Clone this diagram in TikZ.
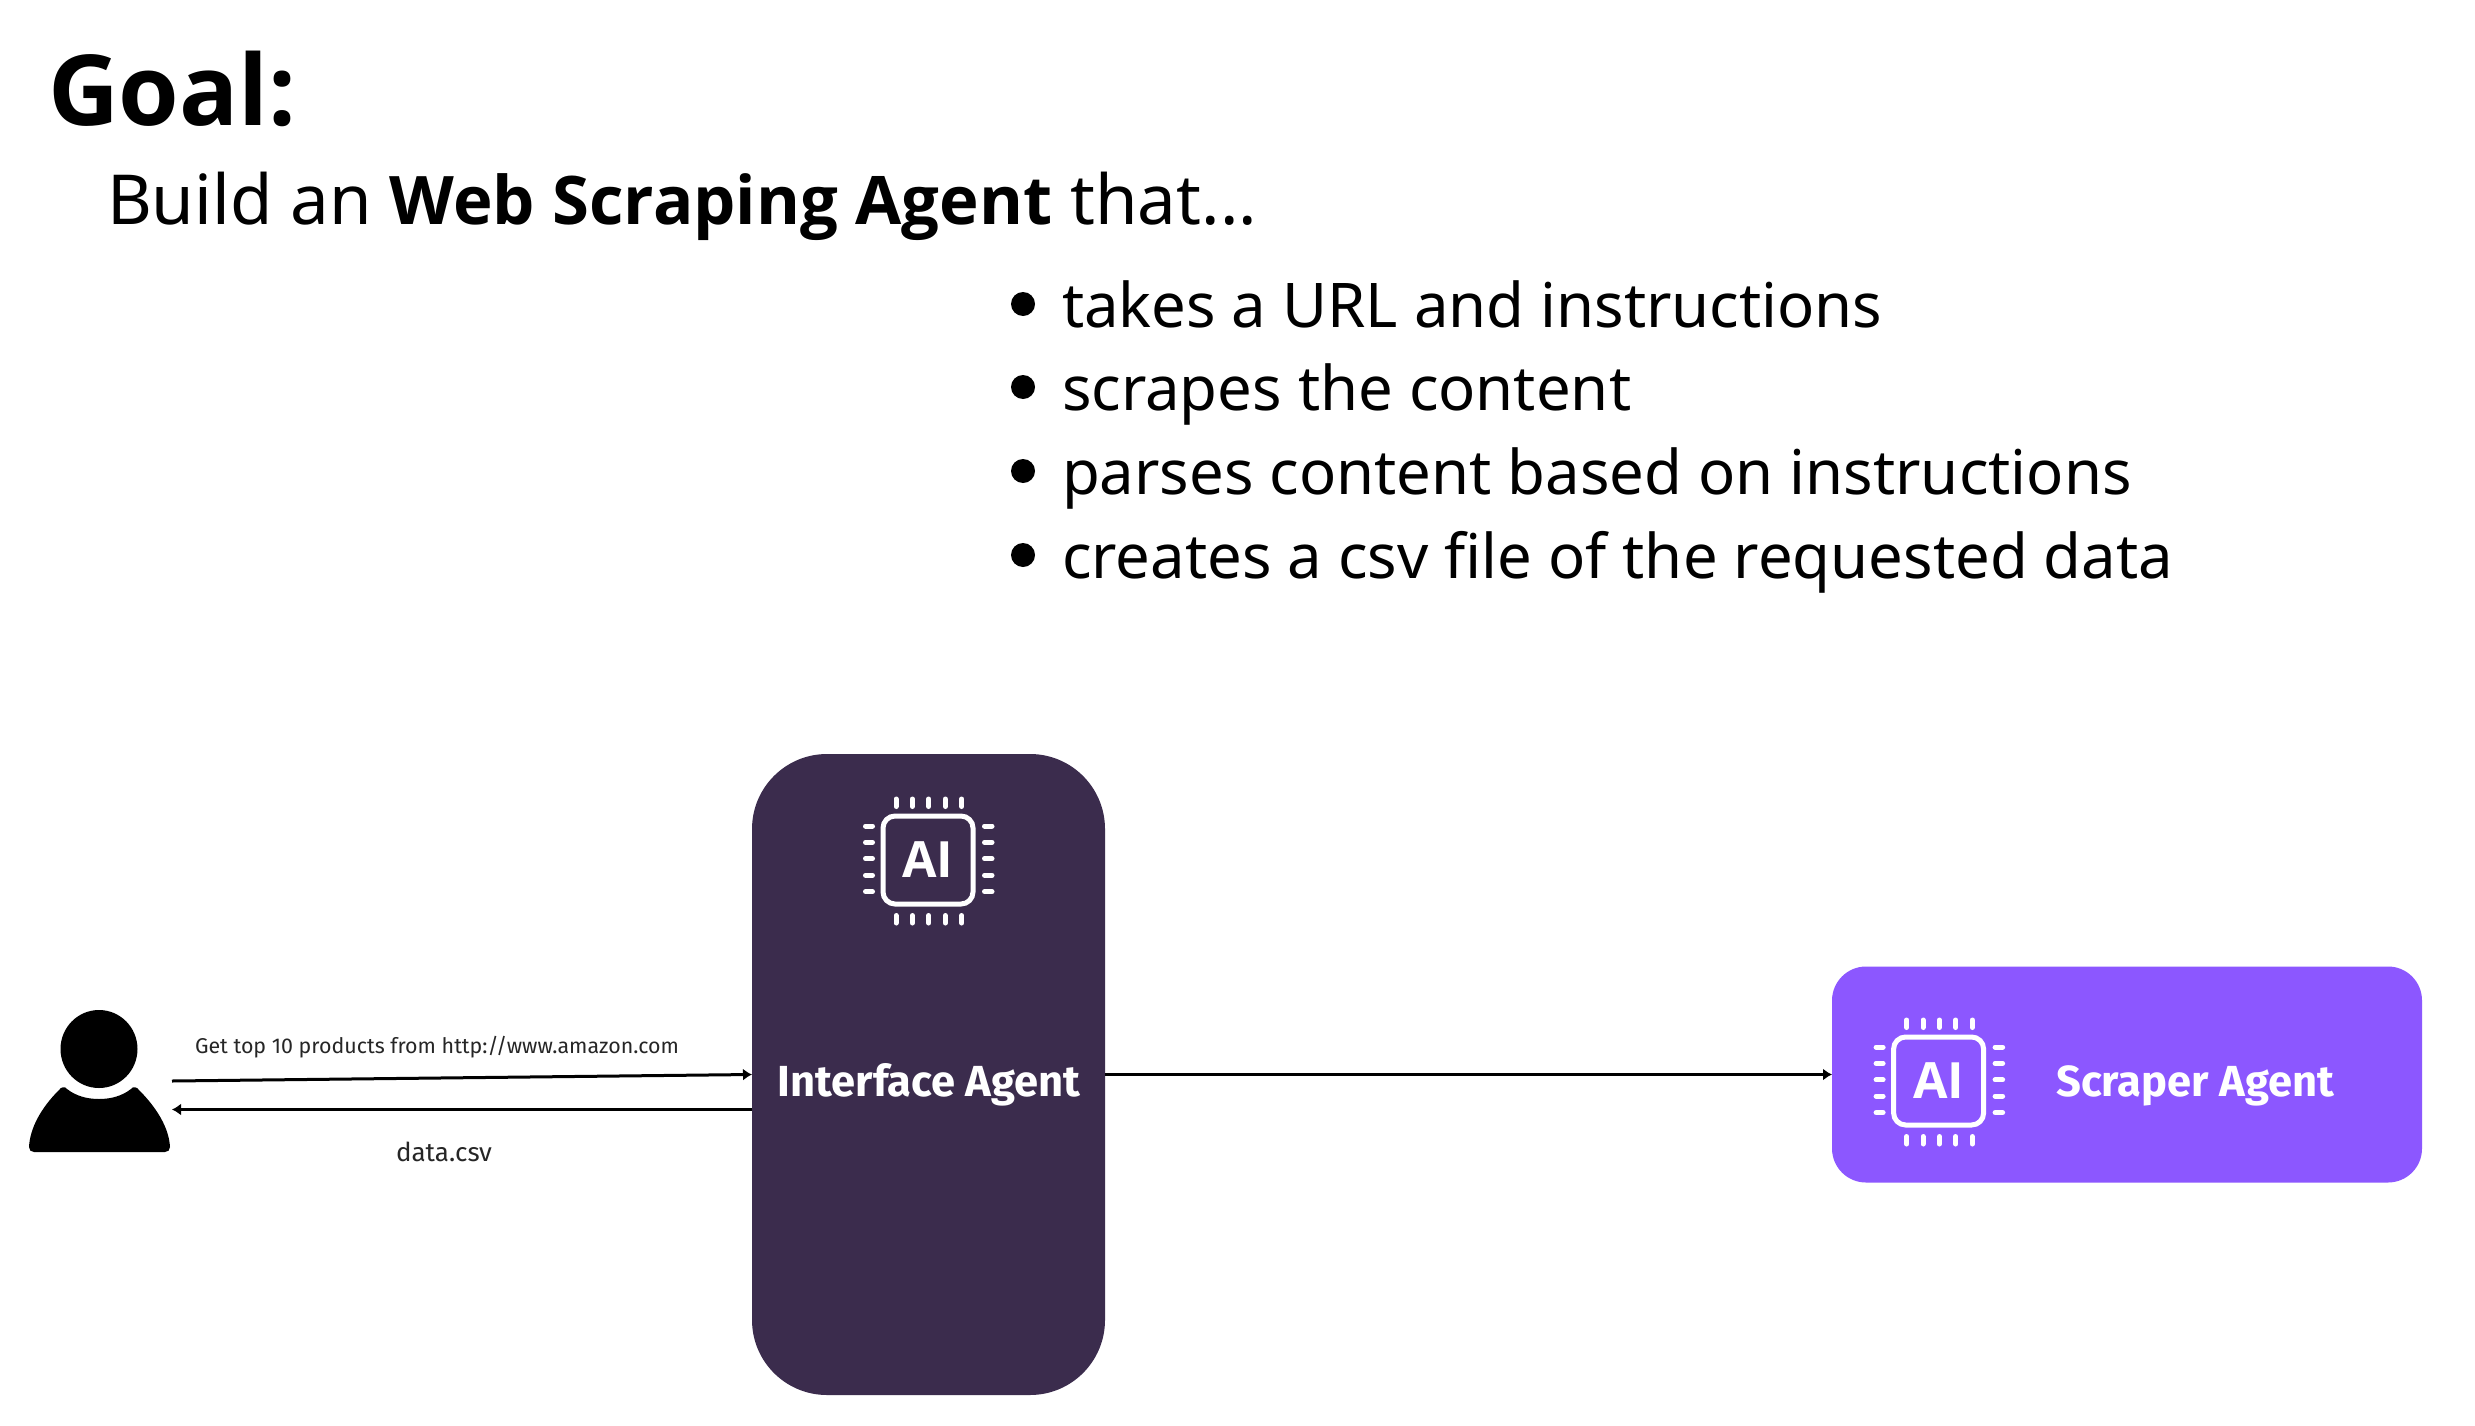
\documentclass[tikz,border=0pt]{standalone}
\usepackage{fontspec}
\setmainfont{Noto Sans}
\newfontfamily\boldf{Open Sans}
\newfontfamily\labelfont{Fira Sans}
\usetikzlibrary{arrows.meta}
\definecolor{ifacecol}{HTML}{3B2C4D}
\definecolor{scrapecol}{HTML}{8C57FF}
\newcommand{\fs}[1]{\fontsize{#1}{#1}\selectfont}
\tikzset{
  x=1pt,y=-1pt,
  txt/.style={anchor=base west,inner sep=0pt,outer sep=0pt,text=black},
  agentbox/.style={draw=none,inner sep=0pt,outer sep=0pt},
  agentname/.style={anchor=base,inner sep=0pt,text=white,font=\labelfont\bfseries\fs{43.5}},
  small/.style={anchor=base,inner sep=0pt,text=black!85,font=\labelfont},
  link/.style={line width=3pt,draw=black,-{Latex[length=9pt,width=12pt]}},
  pin/.style={line width=5pt,white,line cap=round},
  pics/chip/.style={code={
    \draw[white,line width=5pt,rounded corners=12pt] (2,2) rectangle (92,90);
    \foreach \k in {0,...,4}{
      \draw[pin] (15+16.4*\k,-15) -- (15+16.4*\k,-7.5);
      \draw[pin] (15+16.4*\k,101.5) -- (15+16.4*\k,109);
      \draw[pin] (-15.5,12+16.4*\k) -- (-8.5,12+16.4*\k);
      \draw[pin] (103.5,12+16.4*\k) -- (111,12+16.4*\k);
    }
    \node[inner sep=0pt,text=white,font=\boldf\bfseries\fs{50}] at (47,46) {AI};
  }}
}
\begin{document}
\begin{tikzpicture}
\useasboundingbox[fill=white] (0,0) rectangle (2475,1426);
\node[txt,font=\boldf\bfseries\fs{98}] (goal) at (48,126) {Goal:};
\node[txt,font=\fs{69}] (build) at (107,224) {Build an {\boldf\bfseries\fs{67}Web Scraping Agent} that...};
\foreach \yy/\tt in {327/takes a URL and instructions,410/scrapes the content,494/parses content based on instructions,578/creates a csv file of the requested data}{
  \fill (1023,\yy-23) circle (12);
  \node[txt,font=\fs{61.6}] at (1062,\yy) {\tt};
}
% person
\node[agentbox,minimum width=141pt,minimum height=142pt] (person) at (99.5,1081) {};
\fill (99,1049) ellipse [x radius=38.5,y radius=39];
\fill (59,1090) .. controls (61,1087) and (65,1086) .. (67,1089)
  .. controls (76,1096) and (87,1099) .. (99,1099)
  .. controls (111,1099) and (122,1096) .. (131,1089)
  .. controls (133,1086) and (137,1087) .. (139,1090)
  .. controls (157,1108) and (169,1128) .. (170,1147)
  .. controls (170,1150) and (168,1152) .. (165,1152)
  -- (34,1152)
  .. controls (31,1152) and (29,1150) .. (29,1147)
  .. controls (30,1128) and (41,1108) .. (59,1090) -- cycle;
% boxes
\node[agentbox,fill=ifacecol,rounded corners=75pt,minimum width=353pt,minimum height=641pt] (iface) at (928.5,1074.5) {};
\node[agentbox,fill=scrapecol,rounded corners=34pt,minimum width=590pt,minimum height=216pt] (scrape) at (2127,1074.5) {};
\pic at (881,814) {chip};
\pic at (1891.6,1035) {chip};
\node[agentname] (ifacelabel) at (929,1096) {Interface Agent};
\node[agentname] (scrapelabel) at (2195,1096) {Scraper Agent};
% connectors
\coordinate (reqstart) at (172,1081);
\coordinate (repend) at (172,1109.5);
\coordinate (repstart) at (iface.west |- repend);
\draw[link] (reqstart) -- (iface.west);
\draw[link] (repstart) -- (repend);
\draw[link] (iface.east) -- (scrape.west);
\node[small,font=\labelfont\fs{21.4}] (reqlabel) at (437,1053) {Get top 10 products from http://www.amazon.com};
\node[small,font=\labelfont\fs{26}] (replabel) at (444,1161) {data.csv};
\end{tikzpicture}
\end{document}
